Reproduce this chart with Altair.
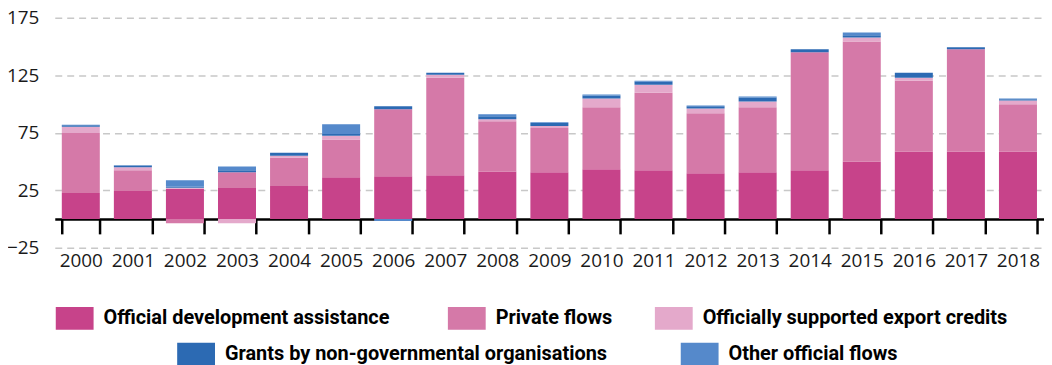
import altair as alt
import pandas as pd

years = [str(y) for y in range(2000, 2019)]
series = [
    "Official development assistance",
    "Private flows",
    "Officially supported export credits",
    "Grants by non-governmental organisations",
    "Other official flows",
]
colors = ["#C7438A", "#D579A8", "#E4A9CB", "#2C6AB3", "#5589CB"]

oda = [22.6, 24.3, 26.3, 26.9, 28.6, 36.3, 37.2, 38.0, 41.4, 40.6, 43.2, 42.3, 39.7, 40.6, 42.3, 50.0, 58.6, 58.6, 58.6]
private = [52.2, 18.0, -3.7, 13.7, 24.7, 32.8, 58.2, 84.8, 43.7, 38.5, 53.9, 67.6, 52.3, 56.5, 102.7, 104.5, 61.6, 89.0, 41.1]
export_credits = [5.4, 2.6, 0.8, -3.7, 1.7, 3.2, 0.0, 2.6, 1.7, 1.7, 7.7, 6.9, 4.2, 5.1, 0.0, 3.4, 2.6, 0.0, 3.4]
ngo = [1.3, 1.7, 0.9, 1.7, 2.6, 1.7, 2.6, 1.7, 2.6, 2.6, 2.6, 2.5, 1.8, 3.5, 2.6, 2.0, 4.3, 1.7, 1.1]
oof = [0.5, 0.2, 5.7, 3.4, 0.0, 8.5, -1.8, 0.0, 1.7, 0.8, 0.8, 0.9, 0.8, 0.8, 0.0, 2.3, 0.0, 0.0, 0.6]

y_ticks = [-25, 25, 75, 125, 175]

rows = []
for si, vals in enumerate([oda, private, export_credits, ngo, oof]):
    for yr, v in zip(years, vals):
        rows.append({"year": yr, "series": series[si], "value": v, "order": si})
df = pd.DataFrame(rows)

W, H = 994, 231
FONT = "Open Sans"
LFONT = "Roboto"

xenc = alt.X(
    "year:N", sort=years, title=None,
    scale=alt.Scale(paddingInner=0.27, paddingOuter=0.135),
    axis=alt.Axis(
        labelAngle=0, domain=True, domainColor="#000000", domainWidth=2.5,
        ticks=True, tickBand="extent", tickSize=15, tickWidth=2.5, tickColor="#000000",
        offset=-28.9, labelPadding=18, labelFont=FONT, labelFontSize=19,
        labelColor="#1a1a1a", grid=False,
    ),
)
yaxis = alt.Axis(
    values=y_ticks, grid=True, gridDash=[7, 5], gridColor="#c8c8c8", gridWidth=1.5,
    domain=False, ticks=False, labelPadding=16, labelFont=FONT, labelFontSize=19,
    labelColor="#1a1a1a",
)
yscale = alt.Scale(domain=[-25, 175], nice=False, zero=False)

bars = alt.Chart(df).mark_bar().encode(
    x=xenc,
    y=alt.Y("value:Q", stack="zero", title=None, scale=yscale, axis=yaxis),
    color=alt.Color("series:N", scale=alt.Scale(domain=series, range=colors), legend=None),
    order=alt.Order("order:Q", sort="ascending"),
)

rect_path = "M-1,-0.605L1,-0.605L1,0.605L-1,0.605Z"
legend_pos = [(1, 283), (395, 283), (603, 283), (123, 319), (629, 319)]

layers = [bars]
for i, name in enumerate(series):
    lx, ly = legend_pos[i]
    leg = alt.Chart(df).transform_filter(alt.datum.series == name).mark_square(opacity=0).encode(
        x=xenc,
        y=alt.Y("value:Q", title=None, scale=yscale, axis=yaxis),
        color=alt.Color(
            "series:N",
            scale=alt.Scale(domain=[name], range=[colors[i]]),
            legend=alt.Legend(
                orient="none", legendX=lx, legendY=ly, title=None, padding=0,
                symbolType=rect_path, symbolSize=1444, symbolOpacity=1, symbolStrokeWidth=0,
                labelFont=LFONT, labelFontWeight="bold", labelFontSize=20, labelColor="#000000",
                labelOffset=10, labelLimit=0,
            ),
        ),
    )
    layers.append(leg)

chart = alt.layer(*layers).resolve_scale(color="independent").properties(
    width=W, height=H,
    padding={"left": 47, "top": 9, "right": 0, "bottom": 117},
    autosize=alt.AutoSizeParams(type="none"),
).configure_view(stroke=None)

chart.save("out.html", embed_options={"renderer": "svg", "actions": False})
